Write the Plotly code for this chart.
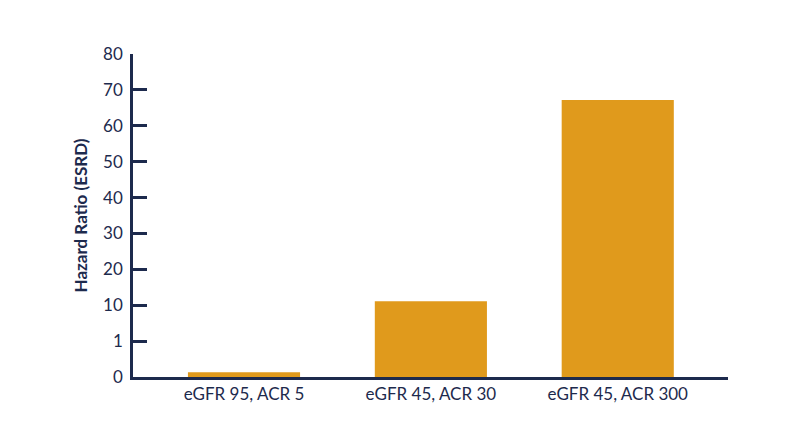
import numpy as np
import plotly.graph_objects as go

categories = ["eGFR 95, ACR 5", "eGFR 45, ACR 30", "eGFR 45, ACR 300"]
hazard_ratio = [0.13, 11.1, 67.2]

# axis is not linear: 0, 1, 10, 20 ... 80 are spaced evenly
tick_values = [0, 1, 10, 20, 30, 40, 50, 60, 70, 80]
tick_labels = [str(v) for v in tick_values]

navy = "#1d2a4d"
gold = "#e09a1c"

slots = list(range(len(tick_values)))
bar_pos = np.interp(hazard_ratio, tick_values, slots)

fig = go.Figure()
fig.add_trace(go.Bar(
    x=categories,
    y=bar_pos,
    customdata=hazard_ratio,
    hovertemplate="%{x}: %{customdata}<extra></extra>",
    marker=dict(color=gold, line=dict(width=0)),
    width=0.6,
))

# page body adds ~8px, so margins are pulled in a bit
fig.update_layout(
    width=800,
    height=447,
    margin=dict(l=125, r=80, t=46, b=78),
    plot_bgcolor="white",
    paper_bgcolor="white",
    showlegend=False,
    font=dict(family="Lato, Open Sans, sans-serif", color=navy, size=17),
)
fig.update_xaxes(
    range=[-0.594, 2.59],
    showline=True,
    linecolor=navy,
    linewidth=2.5,
    showgrid=False,
    ticks="",
    tickfont=dict(size=17, color=navy),
)
fig.update_yaxes(
    range=[0, len(tick_values) - 1],
    tickvals=slots,
    ticktext=tick_labels,
    showline=True,
    linecolor=navy,
    linewidth=2.5,
    showgrid=False,
    zeroline=False,
    ticks="inside",
    ticklen=14,
    tickwidth=2.5,
    tickcolor=navy,
    tickfont=dict(size=17, color=navy),
    ticklabelstandoff=4,
    title=dict(text="<b>Hazard Ratio (ESRD)</b>", font=dict(size=17, color=navy), standoff=12),
)

fig.write_html("out.html")
